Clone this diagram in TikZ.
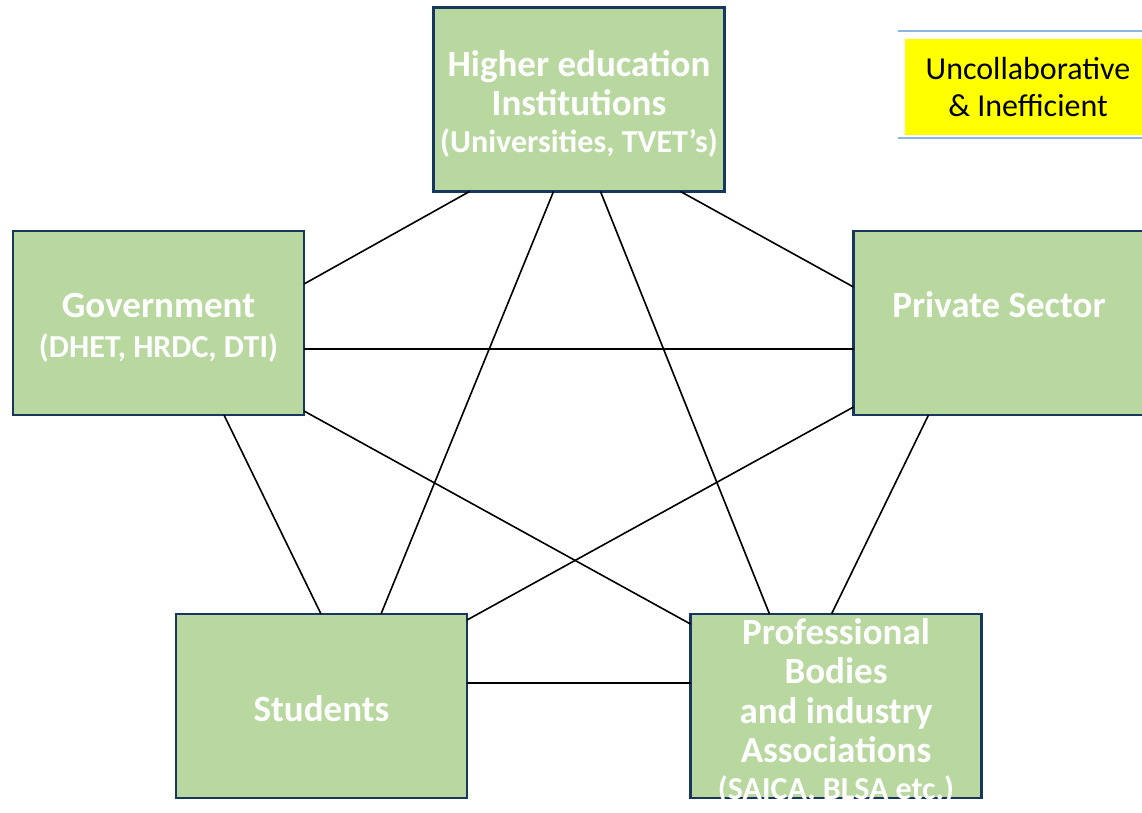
\documentclass[tikz,border=0pt]{standalone}
\usepackage{fontspec}
\setmainfont{Carlito}
\usepackage{xcolor}
\definecolor{boxfill}{HTML}{B8D8A0}
\definecolor{boxline}{HTML}{17375E}
\definecolor{rulecol}{HTML}{8DB4E2}
\definecolor{legendyellow}{HTML}{FFFF00}
\tikzset{
  actor/.style={draw=boxline,fill=boxfill,line width=2.5pt,inner sep=0pt,outer sep=0pt,
    minimum width=291pt,minimum height=184pt},
  actortext/.style={inner sep=0pt,align=center,text=white,yshift=-5pt,
    font=\bfseries\fontsize{37}{39.5}\selectfont},
  link/.style={black,line width=1.6pt},
}
\newcommand{\subline}[1]{{\fontsize{32}{39.5}\selectfont #1}}

\begin{document}
\begin{tikzpicture}[x=1pt,y=-1pt]
  \useasboundingbox (0,0) rectangle (1142,812);
  % stakeholders
  \node[actor,label={[actortext,yshift=1pt]center:Higher education\\Institutions\\[-3pt]\subline{(Universities, TVET’s)}}] (hei) at (579,99.5) {};
  \node[actor,label={[actortext]center:Government\\\subline{(DHET, HRDC, DTI)}}] (gov) at (158.5,323) {};
  \node[actor,label={[actortext,yshift=23pt]center:Private Sector}] (priv) at (999,323) {};
  \node[actor,label={[actortext,yshift=2pt]center:Students}] (stud) at (321.5,706) {};
  \node[actor,label={[actortext]center:Professional\\Bodies\\and industry\\Associations\\[-3pt]\subline{(SAICA, BLSA etc.)}}] (prof) at (836,706) {};
  % legend
  \draw[rulecol,line width=1.5pt] (898,31) -- (1142,31);
  \draw[rulecol,line width=1.5pt] (898,138) -- (1142,138);
  \node[fill=legendyellow,minimum width=246pt,minimum height=96pt,inner sep=0pt,align=center,
    font=\fontsize{32}{37}\selectfont] (legend) at (1028,87) {Uncollaborative\\\& Inefficient};
  % links between every pair
  \draw[link] ([xshift=36]hei.south west) -- ([yshift=-53]gov.north east);
  \draw[link] ([xshift=-44]hei.south east) -- ([yshift=-56]priv.north west);
  \draw[link] ([xshift=120]hei.south west) -- ([xshift=-86]stud.north east);
  \draw[link] ([xshift=167]hei.south west) -- ([xshift=79]prof.north west);
  \draw[link] ([yshift=-118]gov.north east) -- ([yshift=-118]priv.north west);
  \draw[link] ([xshift=211]gov.south west) -- ([xshift=145]stud.north west);
  \draw[link] ([yshift=4]gov.south east) -- ([yshift=-10]prof.north west);
  \draw[link] ([yshift=8]priv.south west) -- ([yshift=-6]stud.north east);
  \draw[link] ([xshift=75]priv.south west) -- ([xshift=141]prof.north west);
  \draw[link] ([yshift=-69]stud.north east) -- ([yshift=-69]prof.north west);
\end{tikzpicture}
\end{document}
